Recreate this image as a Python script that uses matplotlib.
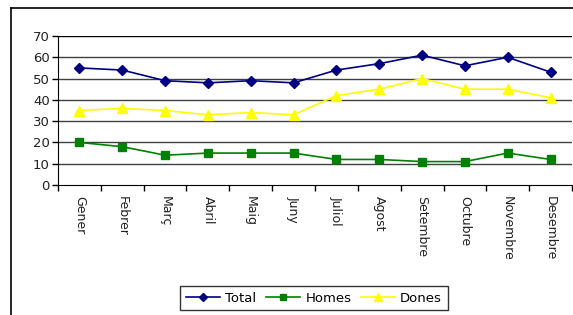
import matplotlib
matplotlib.use("Agg")
import matplotlib.pyplot as plt
from matplotlib.lines import Line2D

months = ["Gener", "Febrer", "Març", "Abril", "Maig", "Juny", "Juliol",
          "Agost", "Setembre", "Octubre", "Novembre", "Desembre"]
total = [55, 54, 49, 48, 49, 48, 54, 57, 61, 56, 60, 53]
homes = [20, 18, 14, 15, 15, 15, 12, 12, 11, 11, 15, 12]
dones = [35, 36, 35, 33, 34, 33, 42, 45, 50, 45, 45, 41]
yticks = [0, 10, 20, 30, 40, 50, 60, 70]

plt.rcParams['font.family'] = ['DejaVu Sans']
W, H = 573, 315
fig = plt.figure(figsize=(W / 100, H / 100), dpi=100)
fig.patch.set_facecolor('white')

# outer chart frame
fig.add_artist(Line2D([10.5 / W, 10.5 / W], [0, 1 - 7.5 / H], color='black', lw=1.2))
fig.add_artist(Line2D([10.5 / W, 1], [1 - 7.5 / H, 1 - 7.5 / H], color='black', lw=1.2))

ax = fig.add_axes([58 / W, 1 - 185 / H, (572 - 58) / W, (185 - 36) / H])
x = list(range(len(months)))
ax.plot(x, total, color='#000080', marker='D', markersize=5.5, lw=1.2, label='Total')
ax.plot(x, homes, color='#008000', marker='s', markersize=5.5, lw=1.2, label='Homes')
ax.plot(x, dones, color='#FFFF00', marker='^', markersize=7, lw=1.2, label='Dones')

ax.set_xlim(-0.5, len(months) - 0.5)
ax.set_ylim(0, 70)
ax.set_yticks(yticks)
ax.set_yticklabels([str(v) for v in yticks], fontsize=9.5, color='#222222')
ax.set_xticks([i - 0.5 for i in range(len(months) + 1)], minor=False)
ax.set_xticklabels([''] * (len(months) + 1))
ax.set_xticks(x, minor=True)
ax.set_xticklabels(months, minor=True, rotation=270, fontsize=9, color='#222222',
                   va='top', ha='center')
ax.tick_params(axis='x', which='minor', length=0, pad=8)
ax.tick_params(axis='x', which='major', length=4, direction='out', width=1)
ax.tick_params(axis='y', length=4, direction='out', width=1, pad=2)

for v in yticks[1:]:
    ax.axhline(v, color='#404040' if v < 70 else 'black', lw=1.0, zorder=0)

for s in ['top', 'right']:
    ax.spines[s].set_visible(False)
ax.spines['left'].set_color('black')
ax.spines['bottom'].set_color('black')

leg = fig.legend(loc='center', bbox_to_anchor=(314 / W, 1 - 298 / H), ncol=3,
                 frameon=True, fancybox=False, edgecolor='black', fontsize=9.5,
                 handlelength=2.6, handletextpad=0.4, columnspacing=0.7,
                 borderpad=0.45, borderaxespad=0, markerscale=0.8)
leg.get_frame().set_linewidth(1.0)

fig.savefig('out.png', dpi=100)
